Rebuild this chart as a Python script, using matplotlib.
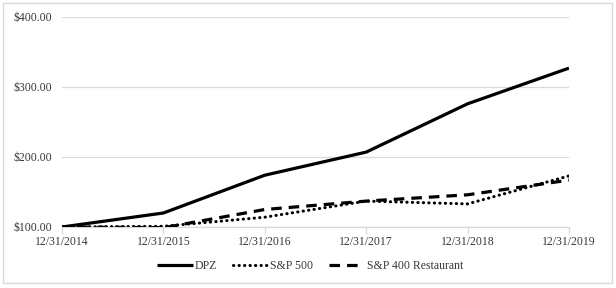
import matplotlib.pyplot as plt
from matplotlib.patches import Rectangle

# data
years = ["12/31/2014", "12/31/2015", "12/31/2016", "12/31/2017", "12/31/2018", "12/31/2019"]
dpz = [100, 120, 174, 207, 276, 327]
sp500 = [100, 101, 114, 137, 133, 173]
sp400_rest = [100, 99, 125, 137, 146, 167]
yticks = [100, 200, 300, 400]

plt.rcParams['font.family'] = ['Liberation Serif', 'DejaVu Serif']
txt = '#383838'

fig = plt.figure(figsize=(6.16, 2.88), dpi=100)
ax = fig.add_axes([62/616, 1-227/288, (569-62)/616, (227-17)/288])

x = range(len(years))
ax.plot(x, dpz, color='black', lw=2.3, solid_capstyle='butt', label='DPZ', zorder=3)
ax.plot(x, sp500, color='black', lw=2.2, linestyle=(0, (0.1, 1.7)),
        dash_capstyle='round', label='S&P 500', zorder=3)
ax.plot(x, sp400_rest, color='black', lw=2.3, linestyle=(0, (3.3, 2.2)),
        dash_capstyle='butt', label='S&P 400 Restaurant', zorder=3)

ax.set_xlim(0, len(years)-1)
ax.set_ylim(100, 400)
ax.set_yticks(yticks)
ax.set_yticklabels(["${:.2f}".format(v) for v in yticks])
ax.set_xticks(list(x))
ax.set_xticklabels(years)
ax.yaxis.grid(True, color='#d9d9d9', lw=0.9)
ax.set_axisbelow(True)
for s in ['top', 'right', 'left']:
    ax.spines[s].set_visible(False)
ax.spines['bottom'].set_color('#d9d9d9')
ax.spines['bottom'].set_linewidth(0.9)
ax.tick_params(axis='y', length=0, pad=7, labelsize=8.5, labelcolor=txt)
ax.tick_params(axis='x', length=5, width=0.9, color='#d9d9d9', pad=1.5,
               labelsize=8.5, labelcolor=txt)
ax.set_facecolor('none')

leg = fig.legend(loc='center', bbox_to_anchor=(310/616, 1-266/288), ncol=3,
                 frameon=False, fontsize=8.5, handlelength=3.0, handletextpad=0.2,
                 columnspacing=1.3, borderaxespad=0)
for t in leg.get_texts():
    t.set_color(txt)

fig.patches.append(Rectangle((3/616, 1-283/288), 609/616, 280/288, transform=fig.transFigure,
                             fill=False, edgecolor='#d9d9d9', lw=1))

fig.savefig('out.png', dpi=100)
